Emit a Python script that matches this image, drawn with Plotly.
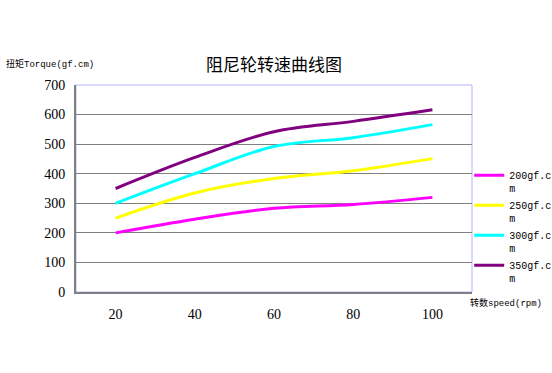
import plotly.graph_objects as go

speeds = [20, 40, 60, 80, 100]
s200 = [200, 246, 283, 296, 320]
s250 = [250, 335, 384, 410, 451]
s300 = [300, 400, 492, 522, 566]
s350 = [350, 455, 542, 577, 616]

series = [
    ("200gf.c<br>m", s200, "#FF00FF"),
    ("250gf.c<br>m", s250, "#FFFF00"),
    ("300gf.c<br>m", s300, "#00FFFF"),
    ("350gf.c<br>m", s350, "#800080"),
]

fig = go.Figure()
for name, vals, col in series:
    fig.add_trace(go.Scatter(x=speeds, y=vals, name=name, mode="lines", legendgroup=name,
                             line=dict(color=col, width=3, shape="spline", smoothing=1.0)))

serif = "Liberation Serif"
cjk = "Noto Sans CJK SC"
mono = "Liberation Mono, Noto Sans CJK SC"

fig.update_layout(
    width=552, height=373,
    margin=dict(l=76, r=80, t=85, b=81, autoexpand=False),
    paper_bgcolor="white", plot_bgcolor="white",
    showlegend=True,
    legend=dict(xref="container", yref="container", x=0.85, y=0.565,
                xanchor="left", yanchor="top",
                font=dict(family=mono, size=10, color="black"),
                valign="top", itemwidth=30, traceorder="grouped", tracegroupgap=1,
                bgcolor="rgba(0,0,0,0)"),
    xaxis=dict(range=[10, 110], tickvals=speeds, ticktext=[str(s) for s in speeds],
               showgrid=False, zeroline=False, showline=True, linecolor="#808080",
               linewidth=2, ticks="", tickfont=dict(family=serif, size=14, color="black"),
               ticklabelstandoff=8, automargin=False),
    yaxis=dict(range=[0, 700], tickvals=[0, 100, 200, 300, 400, 500, 600, 700],
               showgrid=True, gridcolor="#808080", gridwidth=1, zeroline=False,
               showline=True, linecolor="#808080", linewidth=2, ticks="",
               tickfont=dict(family=serif, size=14, color="black"), ticklabelstandoff=6,
               automargin=False),
    shapes=[dict(type="rect", xref="paper", yref="paper", x0=0, x1=1, y0=0, y1=1,
                 line=dict(color="#B4B4FF", width=1), layer="below")],
    annotations=[
        dict(text="阻尼轮转速曲线图", xref="paper", yref="paper", x=0.5, y=1.0,
             yshift=22, xanchor="center", yanchor="middle", showarrow=False,
             font=dict(family=cjk, size=17, color="black")),
        dict(text="扭矩Torque(gf.cm)", xref="paper", yref="paper", x=-0.182, y=1.0,
             yshift=21, xanchor="left", yanchor="middle", showarrow=False,
             font=dict(family=mono, size=9, color="black")),
        dict(text="转数speed(rpm)", xref="paper", yref="paper", x=1.0, y=0.0,
             yshift=-11, xshift=-4, xanchor="left", yanchor="middle", showarrow=False,
             font=dict(family=mono, size=9, color="black")),
    ],
)

fig.write_html("out.html", config={"displayModeBar": False},
               post_script="document.body.style.margin='0';")
